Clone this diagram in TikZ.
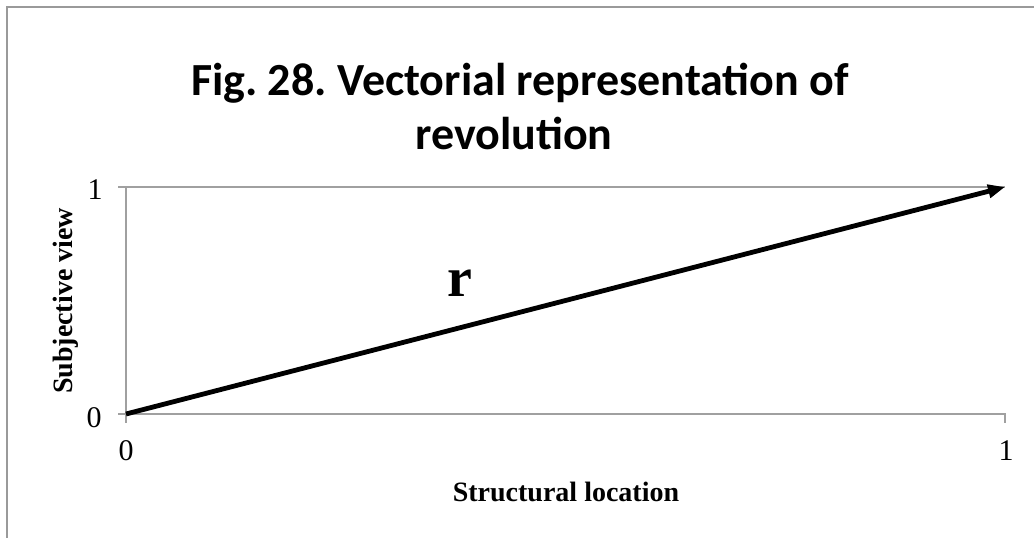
\documentclass[tikz,border=0pt]{standalone}
\usepackage{fontspec}
\setmainfont{Liberation Serif}
\newfontfamily\titlefont{Carlito}
\usetikzlibrary{arrows.meta}
\frenchspacing
\definecolor{framegray}{HTML}{9A9A9A}
\definecolor{gridgray}{HTML}{A0A0A0}
\tikzset{
  frameline/.style={draw=framegray, line width=2pt},
  axisline/.style={draw=gridgray, line width=2pt},
  vec/.style={line width=4.8pt, -{Triangle[length=17pt,width=13pt]}},
  ticklabel/.style={font=\fontsize{30}{34}\selectfont, inner sep=0pt},
  axislabel/.style={font=\fontsize{28}{32}\selectfont\bfseries, inner sep=0pt},
  titlestyle/.style={font=\titlefont\fontsize{46}{54}\selectfont\bfseries, inner sep=0pt, anchor=base}
}
\begin{document}
\begin{tikzpicture}[x=1pt, y=-1pt]
\useasboundingbox (0,0) rectangle (1034,538);
\fill[white] (0,0) rectangle (1034,538);
% frame
\draw[frameline] (7,538) -- (7,7) -- (1034,7);
% title
\node[titlestyle] (t1) at (520,95) {Fig. 28. Vectorial representation of};
\node[titlestyle] (t2) at (514,149) {revolution};
% axes and gridline
\coordinate (o) at (126,414);
\coordinate (e) at (1005,187);
\coordinate (xl) at (118,414);
\coordinate (xr) at (1005,414);
\coordinate (xrt) at (1005,423);
\coordinate (yt) at (126,187);
\coordinate (yb) at (126,423);
\coordinate (gl) at (118,187);
\draw[axisline] (gl) -- (e);
\draw[axisline] (yt) -- (yb);
\draw[axisline] (xl) -- (xr) -- (xrt);
% tick labels
\node[ticklabel] (y1) at (95,190) {1};
\node[ticklabel] (y0) at (94,418) {0};
\node[ticklabel] (x0) at (126,451) {0};
\node[ticklabel] (x1) at (1006,451) {1};
% axis titles
\node[axislabel] (xlab) at (566,492) {Structural location};
\node[axislabel, rotate=90] (ylab) at (66,301) {Subjective view};
% vector
\draw[vec] (o) -- (e);
\node[font=\fontsize{56}{60}\selectfont\bfseries, inner sep=0pt] (r) at (460,283) {r};
\end{tikzpicture}
\end{document}
